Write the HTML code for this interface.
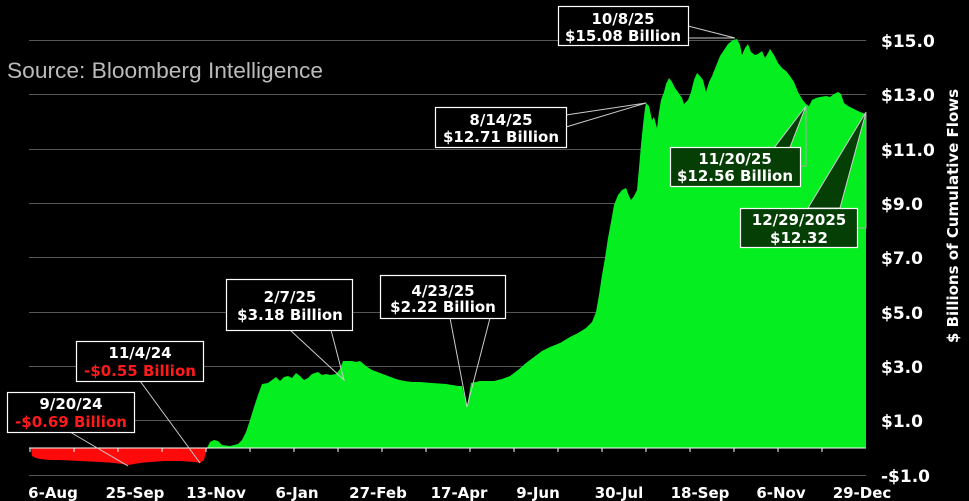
<!DOCTYPE html>
<html><head><meta charset="utf-8"><style>
body{margin:0;background:#000;}
svg{display:block}
text{font-family:"DejaVu Sans","Liberation Sans",sans-serif;font-weight:bold;}
</style></head><body>
<svg width="969" height="501" viewBox="0 0 969 501" xmlns="http://www.w3.org/2000/svg">
<rect width="969" height="501" fill="#000"/>
<g stroke="#555" stroke-width="1">
<line x1="29" x2="866" y1="40.5" y2="40.5"/>
<line x1="29" x2="866" y1="94.5" y2="94.5"/>
<line x1="29" x2="866" y1="149.5" y2="149.5"/>
<line x1="29" x2="866" y1="203.5" y2="203.5"/>
<line x1="29" x2="866" y1="257.5" y2="257.5"/>
<line x1="29" x2="866" y1="312.5" y2="312.5"/>
<line x1="29" x2="866" y1="366.5" y2="366.5"/>
<line x1="29" x2="866" y1="420.5" y2="420.5"/>
<line x1="29" x2="866" y1="475.5" y2="475.5"/>
</g>
<polygon fill="#ff0a0a" points="31,448 32,456 36,458 40,459 50,460 60,460 80,461 100,462 115,463 128,465 140,463 150,462 165,461 180,461 195,462 200,463 204,460 207,448"/>
<polygon fill="#05ee1f" points="207,448 210,442 214,440 218,441 222,445 230,446 238,444 242,440 246,432 250,420 254,407 258,395 262,384 268,383 272,380 276,377 280,381 284,377 288,376 292,378 296,373 300,376 304,380 308,378 312,374 318,372 322,375 326,374 330,375 336,374 340,369 343,361 352,361 356,362 360,361 366,366 372,370 380,373 388,376 396,379 404,381 412,382 420,382 432,383 446,384 458,386 462,386 467,407 471,383 480,381 494,381 502,379 510,376 518,370 526,363 534,357 542,351 550,347 560,343 570,337 578,333 586,328 592,322 596,312 599,295 602,275 605,258 608,238 611,222 614,205 618,195 622,190 626,188 629,196 631,200 634,196 637,190 639,168 641,145 643,125 645,108 646,103 649,106 652,120 654,117 657,128 659,112 661,100 664,92 666,84 669,78 672,82 675,88 678,92 682,98 684,104 688,100 691,92 694,80 697,73 700,76 703,80 706,92 709,82 712,76 716,66 720,56 724,50 728,44 733,40 737,39 740,45 742,55 745,48 748,44 751,52 755,55 758,54 762,51 765,58 768,53 770,49 774,55 778,63 782,68 786,71 790,76 794,82 798,92 802,99 806,104 809,106 812,100 816,98 820,97 826,96 830,97 834,94 838,92 841,94 844,103 848,106 852,108 856,110 860,112 866,114 866,448"/>
<line x1="29" x2="866" y1="448" y2="448" stroke="#fff" stroke-width="1"/>
<g stroke="#fff" stroke-width="1">
<line x1="30" x2="30" y1="448" y2="452"/><line x1="74" x2="74" y1="448" y2="452"/><line x1="118" x2="118" y1="448" y2="452"/><line x1="162" x2="162" y1="448" y2="452"/><line x1="206" x2="206" y1="448" y2="452"/><line x1="250" x2="250" y1="448" y2="452"/><line x1="294" x2="294" y1="448" y2="452"/><line x1="338" x2="338" y1="448" y2="452"/><line x1="382" x2="382" y1="448" y2="452"/><line x1="426" x2="426" y1="448" y2="452"/><line x1="470" x2="470" y1="448" y2="452"/><line x1="514" x2="514" y1="448" y2="452"/><line x1="558" x2="558" y1="448" y2="452"/><line x1="602" x2="602" y1="448" y2="452"/><line x1="646" x2="646" y1="448" y2="452"/><line x1="690" x2="690" y1="448" y2="452"/><line x1="734" x2="734" y1="448" y2="452"/><line x1="778" x2="778" y1="448" y2="452"/><line x1="822" x2="822" y1="448" y2="452"/>
</g>
<g stroke="#ccc" stroke-width="1" fill="none">
<polyline points="688,26 735,38 688,38"/>
<polyline points="566,115 646,103 566,127"/>
<polyline points="290,330 344,380 331,330"/>
<polyline points="450,318 467,407 490,318"/>
<line x1="140" y1="381" x2="200" y2="463"/>
<line x1="70" y1="432" x2="128" y2="466"/>
</g>
<polygon points="745,186 806,106 775,186" fill="#063f06" stroke="#ccc"/>
<polygon points="808,208 866,112 840,208" fill="#063f06" stroke="#ccc"/>
<polyline points="806,106 806,166 800,166" stroke="#aaa" fill="none"/>
<polyline points="866,112 866,228 857,228" stroke="#aaa" fill="none"/>
<g stroke="#fff" stroke-width="1.2">
<rect x="558.5" y="6.5" width="130" height="39" fill="#000"/>
<rect x="435.5" y="107.5" width="131" height="40" fill="#000"/>
<rect x="226.5" y="279.5" width="126" height="51" fill="#000"/>
<rect x="380.5" y="275.5" width="125" height="43" fill="#000"/>
<rect x="76.5" y="341.5" width="127" height="40" fill="#000"/>
<rect x="7.5" y="392.5" width="127" height="40" fill="#000"/>
<rect x="670.5" y="147.5" width="130" height="39" fill="#063f06"/>
<rect x="740.5" y="208.5" width="117" height="39" fill="#063f06"/>
</g>
<g fill="#fff" font-size="15" text-anchor="middle">
<text x="623" y="24">10/8/25</text><text x="623" y="41">$15.08 Billion</text>
<text x="501" y="125">8/14/25</text><text x="501" y="142">$12.71 Billion</text>
<text x="290" y="302">2/7/25</text><text x="290" y="320">$3.18 Billion</text>
<text x="443" y="296">4/23/25</text><text x="443" y="312">$2.22 Billion</text>
<text x="140" y="358">11/4/24</text><text x="140" y="376" fill="#ff1a1a">-$0.55 Billion</text>
<text x="71" y="409">9/20/24</text><text x="71" y="427" fill="#ff1a1a">-$0.69 Billion</text>
<text x="735" y="164">11/20/25</text><text x="735" y="181">$12.56 Billion</text>
<text x="799" y="225">12/29/2025</text><text x="799" y="243">$12.32</text>
</g>
<text x="7" y="78" fill="#bbb" font-size="22" textLength="316" lengthAdjust="spacingAndGlyphs" style="font-family:'Liberation Sans Narrow','Liberation Sans',sans-serif;font-weight:normal">Source: Bloomberg Intelligence</text>
<g fill="#fff" font-size="17">
<text x="881" y="47">$15.0</text><text x="881" y="101">$13.0</text><text x="881" y="156">$11.0</text><text x="881" y="210">$9.0</text><text x="881" y="264">$7.0</text><text x="881" y="319">$5.0</text><text x="881" y="373">$3.0</text><text x="881" y="427">$1.0</text><text x="881" y="482">-$1.0</text>
</g>
<text transform="translate(958,216) rotate(-90)" fill="#fff" font-size="15" text-anchor="middle">$ Billions of Cumulative Flows</text>
<g fill="#fff" font-size="15" text-anchor="middle">
<text x="53" y="498">6-Aug</text><text x="135" y="498">25-Sep</text><text x="216" y="498">13-Nov</text><text x="297" y="498">6-Jan</text><text x="378" y="498">27-Feb</text><text x="459" y="498">17-Apr</text><text x="538" y="498">9-Jun</text><text x="619" y="498">30-Jul</text><text x="700" y="498">18-Sep</text><text x="781" y="498">6-Nov</text><text x="862" y="498">29-Dec</text>
</g>
</svg>
</body></html>
